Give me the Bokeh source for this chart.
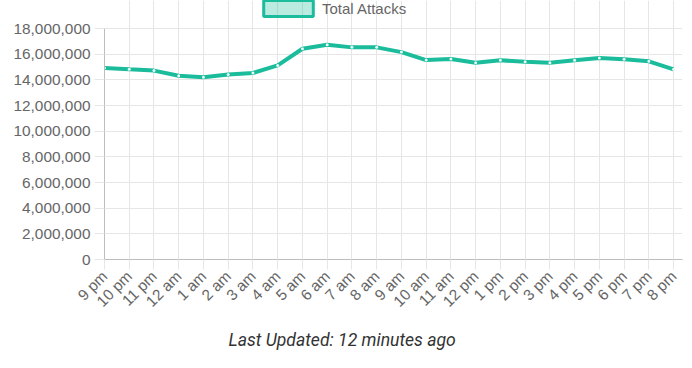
import math
from bokeh.plotting import figure
from bokeh.models import (ColumnDataSource, FixedTicker, NumeralTickFormatter,
                          Legend, LegendItem, Title, Range1d)
from bokeh.embed import file_html
from bokeh.resources import INLINE

hours = ["9 pm", "10 pm", "11 pm", "12 am", "1 am", "2 am", "3 am", "4 am",
         "5 am", "6 am", "7 am", "8 am", "9 am", "10 am", "11 am", "12 pm",
         "1 pm", "2 pm", "3 pm", "4 pm", "5 pm", "6 pm", "7 pm", "8 pm"]
attacks = [14930000, 14820000, 14720000, 14320000, 14210000, 14420000,
           14530000, 15120000, 16420000, 16740000, 16530000, 16530000,
           16160000, 15540000, 15620000, 15330000, 15520000, 15410000,
           15330000, 15520000, 15700000, 15600000, 15440000, 14820000]
y_ticks = [0, 2000000, 4000000, 6000000, 8000000, 10000000, 12000000,
           14000000, 16000000, 18000000]
series_name = "Total Attacks"
footer = "Last Updated: 12 minutes ago"

TEAL = "#1abc9c"
idx = list(range(len(hours)))
src = ColumnDataSource(dict(x=idx, y=attacks))

# frame spans from the canvas top down to the zero line; the axis area
# (0 .. top tick) occupies the lower 231 px, the legend sits in the 28 px above
FRAME_H, AXIS_H = 259, 231
y_end = y_ticks[-1] * FRAME_H / AXIS_H

p = figure(width=692, height=368, output_backend="svg", toolbar_location=None,
           x_range=Range1d(0, len(hours) - 1 + 0.36),
           y_range=Range1d(y_ticks[0], y_end),
           min_border_left=104, min_border_right=10, min_border_top=0,
           min_border_bottom=109)
p.outline_line_color = None

line_r = p.line("x", "y", source=src, line_color=TEAL, line_width=4)
p.scatter("x", "y", source=src, size=3, fill_color="#e8f8f5", line_color=None)

# renderer used only to give the legend its Chart.js-style filled box
box_r = p.quad(left="x", right="x", top="y", bottom="y", source=src,
               fill_color=TEAL, fill_alpha=0.3, line_color=TEAL, line_width=3,
               visible=False)

# axes
p.xaxis.ticker = FixedTicker(ticks=idx)
p.xaxis.major_label_overrides = {i: h for i, h in zip(idx, hours)}
p.xaxis.major_label_orientation = math.pi / 4
p.yaxis.ticker = FixedTicker(ticks=y_ticks)
p.yaxis.formatter = NumeralTickFormatter(format="0,0")
p.yaxis.bounds = (y_ticks[0], y_ticks[-1])
for ax in (p.xaxis, p.yaxis):
    ax.major_label_text_font = "Liberation Sans"
    ax.major_label_text_font_size = "15.4px"
    ax.major_label_text_color = "#666666"
    ax.axis_line_color = "#bdbdbd"
    ax.major_tick_line_color = "#e6e6e6"
    ax.major_tick_out = 10
    ax.major_tick_in = 0
    ax.minor_tick_line_color = None
    ax.major_label_standoff = 4
p.xgrid.grid_line_color = "#e6e6e6"
p.ygrid.grid_line_color = "#e6e6e6"
p.xgrid.ticker = FixedTicker(ticks=idx)
p.xgrid.bounds = (y_ticks[0], y_ticks[-1])

legend = Legend(items=[LegendItem(label=series_name, renderers=[box_r])],
                location=(153, 241), orientation="horizontal",
                glyph_width=62, glyph_height=20, label_standoff=3,
                padding=0, margin=0, border_line_alpha=0,
                background_fill_alpha=0, click_policy="none",
                label_text_font="Liberation Sans",
                label_text_font_size="15px", label_text_color="#666666")
p.add_layout(legend)

t = Title(text=footer, align="left", offset=124, text_font="Roboto",
          text_font_style="italic", text_font_size="17.6px",
          text_color="#333333", standoff=19)
p.add_layout(t, "below")

open("out.html", "w").write(file_html(p, INLINE))
